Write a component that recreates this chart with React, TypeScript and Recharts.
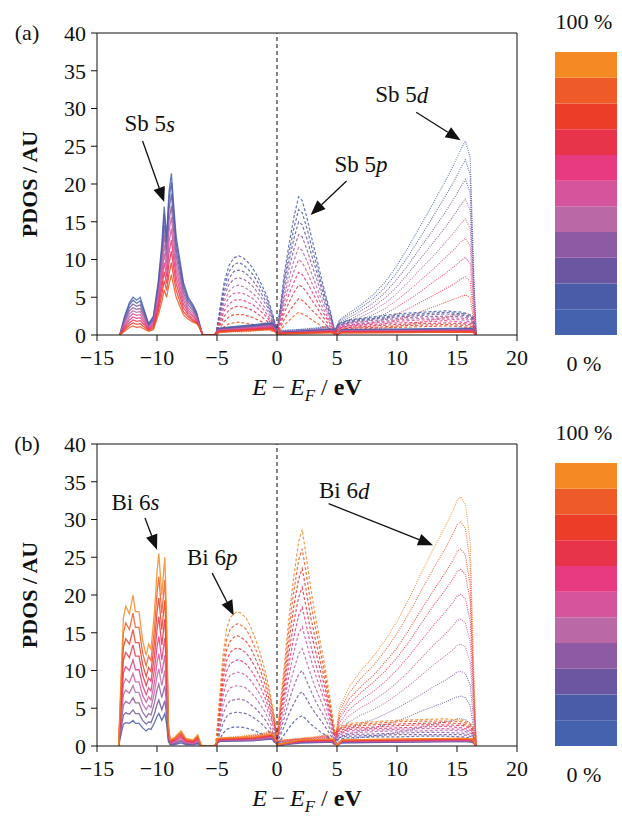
import React from "react";
import {
  LineChart,
  Line,
  XAxis,
  YAxis,
  ReferenceLine,
  ReferenceDot,
  BarChart,
  Bar,
} from "recharts";

const FONT = '"Liberation Serif", "Times New Roman", serif';

// colour scale, 0 % (bottom) -> 100 % (top)
const scaleColors = [
  "#4462ae", "#4a5ba8", "#6b56a2", "#8e5aa3", "#ba68a6", "#d4559c",
  "#e83a80", "#e8344b", "#ec3d29", "#ee5a28", "#f58a24",
];

const xTicks = [-15, -10, -5, 0, 5, 10, 15, 20];
const yTicks = [0, 5, 10, 15, 20, 25, 30, 35, 40];

// ---------- (a) Sb ----------
const sbSX = [-13.1, -12.7, -12.3, -12.0, -11.7, -11.4, -11.1, -10.7, -10.3, -9.9, -9.6, -9.4, -9.2, -9.0, -8.8, -8.6, -8.4, -8.1, -7.8, -7.4, -7.0, -6.7, -6.4, -6.2, -5.2, -4.9, -0.4, 0.1, 4.7, 5.0, 5.4, 16.3, 16.6];
// one row per composition, 0 % ... 90 %
const sb5s = [
  [0, 2.5, 4.3, 5.0, 4.6, 5.0, 3.5, 1.5, 2.5, 7.0, 12.0, 17.0, 13.0, 19.0, 21.4, 17.0, 13.0, 10.0, 7.0, 5.0, 4.0, 3.0, 1.2, 0, 0, 0.9, 1.6, 0.3, 0.8, 0.1, 0.7, 0.9, 0],
  [0, 2.3, 4.0, 4.6, 4.2, 4.5, 3.2, 1.4, 2.3, 6.6, 11.2, 16.0, 12.2, 18.0, 20.2, 16.0, 12.2, 9.4, 6.6, 4.7, 3.8, 2.8, 1.1, 0, 0, 0.8, 1.5, 0.3, 0.7, 0.1, 0.6, 0.8, 0],
  [0, 2.0, 3.6, 4.1, 3.8, 4.0, 2.9, 1.2, 2.1, 6.1, 10.4, 14.6, 11.3, 16.6, 18.7, 14.8, 11.3, 8.7, 6.1, 4.4, 3.5, 2.6, 1.0, 0, 0, 0.7, 1.4, 0.3, 0.7, 0.1, 0.6, 0.7, 0],
  [0, 1.8, 3.2, 3.6, 3.4, 3.5, 2.6, 1.1, 1.9, 5.6, 9.6, 13.3, 10.4, 15.1, 17.1, 13.6, 10.4, 8.0, 5.6, 4.0, 3.2, 2.4, 0.9, 0, 0, 0.7, 1.3, 0.2, 0.6, 0.1, 0.5, 0.7, 0],
  [0, 1.6, 2.8, 3.2, 3.0, 3.1, 2.3, 1.0, 1.7, 5.1, 8.8, 12.0, 9.5, 13.7, 15.6, 12.4, 9.5, 7.3, 5.1, 3.6, 2.9, 2.2, 0.9, 0, 0, 0.6, 1.2, 0.2, 0.6, 0.1, 0.5, 0.6, 0],
  [0, 1.3, 2.4, 2.8, 2.6, 2.7, 2.0, 0.9, 1.5, 4.6, 8.0, 10.8, 8.6, 12.3, 14.1, 11.2, 8.6, 6.6, 4.6, 3.3, 2.6, 2.0, 0.8, 0, 0, 0.6, 1.1, 0.2, 0.5, 0.1, 0.5, 0.6, 0],
  [0, 1.1, 2.0, 2.4, 2.2, 2.3, 1.7, 0.8, 1.3, 4.1, 7.1, 9.6, 7.7, 10.9, 12.6, 10.0, 7.7, 5.9, 4.1, 3.0, 2.4, 1.9, 0.8, 0, 0, 0.5, 1.0, 0.2, 0.5, 0.1, 0.4, 0.5, 0],
  [0, 0.9, 1.6, 2.0, 1.8, 1.9, 1.4, 0.7, 1.1, 3.6, 6.2, 8.4, 6.8, 9.5, 11.1, 8.8, 6.8, 5.2, 3.6, 2.7, 2.1, 1.7, 0.8, 0, 0, 0.5, 0.9, 0.2, 0.4, 0.1, 0.4, 0.5, 0],
  [0, 0.7, 1.3, 1.6, 1.4, 1.5, 1.1, 0.6, 0.9, 3.1, 5.3, 7.2, 5.9, 8.1, 9.6, 7.6, 5.9, 4.5, 3.1, 2.4, 1.9, 1.6, 0.9, 0, 0, 0.4, 0.8, 0.2, 0.4, 0.1, 0.3, 0.4, 0],
  [0, 0.5, 1.0, 1.2, 1.0, 1.1, 0.8, 0.5, 0.7, 2.6, 4.4, 6.0, 5.0, 6.7, 8.0, 6.4, 5.0, 3.8, 2.7, 2.1, 1.7, 1.5, 1.0, 0, 0, 0.4, 0.7, 0.1, 0.3, 0.1, 0.3, 0.4, 0],
];

const sbPX = [-5.1, -4.8, -4.4, -4.0, -3.6, -3.2, -2.8, -2.4, -2.0, -1.6, -1.2, -0.8, -0.4, 0.0, 0.3, 0.6, 1.0, 1.4, 1.8, 2.1, 2.5, 2.9, 3.3, 3.7, 4.1, 4.5, 4.8, 5.1, 6, 8, 10, 12, 14, 15.5, 16.3, 16.6];
const sb5p = [
  [0, 3.0, 7.0, 9.2, 10.2, 10.5, 10.2, 9.6, 8.8, 7.7, 6.4, 5.0, 3.0, 0.6, 4.0, 8.0, 12.0, 15.5, 18.3, 17.8, 15.5, 12.8, 10.2, 7.5, 5.0, 2.8, 0.6, 1.5, 2.0, 2.4, 2.8, 3.0, 3.2, 3.0, 2.5, 0],
  [0, 2.7, 6.4, 8.4, 9.3, 9.6, 9.3, 8.7, 8.0, 7.0, 5.8, 4.6, 2.7, 0.6, 3.6, 7.3, 10.9, 14.1, 16.6, 16.2, 14.1, 11.6, 9.3, 6.8, 4.6, 2.5, 0.6, 1.4, 1.9, 2.2, 2.6, 2.8, 3.0, 2.8, 2.3, 0],
  [0, 2.5, 5.7, 7.5, 8.4, 8.6, 8.4, 7.9, 7.2, 6.3, 5.2, 4.1, 2.5, 0.5, 3.3, 6.6, 9.8, 12.7, 15.0, 14.6, 12.7, 10.5, 8.4, 6.2, 4.1, 2.3, 0.5, 1.3, 1.7, 2.1, 2.4, 2.6, 2.8, 2.6, 2.2, 0],
  [0, 2.2, 5.1, 6.7, 7.4, 7.6, 7.4, 7.0, 6.4, 5.6, 4.7, 3.7, 2.2, 0.5, 2.9, 5.8, 8.8, 11.3, 13.3, 13.0, 11.3, 9.3, 7.4, 5.5, 3.7, 2.0, 0.5, 1.2, 1.6, 1.9, 2.2, 2.4, 2.5, 2.4, 2.0, 0],
  [0, 1.9, 4.4, 5.8, 6.4, 6.6, 6.4, 6.0, 5.5, 4.9, 4.0, 3.2, 1.9, 0.4, 2.5, 5.0, 7.6, 9.8, 11.6, 11.2, 9.8, 8.1, 6.4, 4.7, 3.2, 1.8, 0.4, 1.1, 1.4, 1.7, 2.0, 2.2, 2.3, 2.2, 1.8, 0],
  [0, 1.6, 3.8, 5.0, 5.5, 5.6, 5.5, 5.2, 4.8, 4.2, 3.5, 2.7, 1.6, 0.4, 2.2, 4.3, 6.5, 8.4, 10.0, 9.6, 8.4, 6.9, 5.5, 4.0, 2.7, 1.5, 0.4, 1.0, 1.3, 1.6, 1.8, 2.0, 2.1, 2.0, 1.6, 0],
  [0, 1.4, 3.2, 4.1, 4.6, 4.7, 4.6, 4.3, 4.0, 3.5, 2.9, 2.3, 1.4, 0.3, 1.8, 3.6, 5.4, 7.0, 8.3, 8.0, 7.0, 5.8, 4.6, 3.4, 2.3, 1.3, 0.3, 0.9, 1.2, 1.4, 1.6, 1.7, 1.9, 1.7, 1.5, 0],
  [0, 1.1, 2.5, 3.3, 3.7, 3.8, 3.7, 3.5, 3.2, 2.8, 2.3, 1.8, 1.1, 0.3, 1.4, 2.9, 4.3, 5.6, 6.6, 6.4, 5.6, 4.6, 3.7, 2.7, 1.8, 1.0, 0.3, 0.8, 1.0, 1.2, 1.4, 1.5, 1.6, 1.5, 1.3, 0],
  [0, 0.8, 1.8, 2.4, 2.7, 2.7, 2.7, 2.5, 2.3, 2.0, 1.7, 1.3, 0.8, 0.2, 1.0, 2.1, 3.1, 4.0, 4.8, 4.6, 4.0, 3.3, 2.7, 2.0, 1.3, 0.7, 0.2, 0.6, 0.9, 1.0, 1.2, 1.3, 1.4, 1.3, 1.1, 0],
  [0, 0.5, 1.1, 1.5, 1.6, 1.7, 1.6, 1.5, 1.4, 1.2, 1.0, 0.8, 0.5, 0.2, 0.6, 1.3, 1.9, 2.5, 3.0, 2.8, 2.5, 2.0, 1.6, 1.2, 0.8, 0.5, 0.2, 0.5, 0.7, 0.9, 1.0, 1.1, 1.2, 1.1, 0.9, 0],
];

const sbDX = [-5.1, -4.8, -4.0, -3.0, -2.0, -1.0, -0.4, 0.0, 0.5, 1.5, 3.0, 4.2, 4.8, 5.2, 6, 7, 8, 9, 10, 11, 12, 13, 14, 14.8, 15.3, 15.7, 16.1, 16.4, 16.6];
const sb5d = [
  [0, 0.8, 1.0, 1.1, 1.3, 1.6, 2.0, 0.8, 0.6, 0.7, 0.9, 1.2, 0.2, 2.0, 2.9, 4.0, 5.3, 7.0, 9.2, 11.8, 14.6, 17.4, 20.3, 22.8, 24.5, 25.7, 23.5, 8.0, 0],
  [0, 0.7, 0.9, 1.0, 1.2, 1.5, 1.9, 0.7, 0.6, 0.7, 0.8, 1.1, 0.2, 1.9, 2.6, 3.6, 4.8, 6.3, 8.3, 10.6, 13.1, 15.7, 18.3, 20.5, 22.1, 23.2, 21.2, 7.2, 0],
  [0, 0.7, 0.9, 1.0, 1.1, 1.4, 1.7, 0.7, 0.5, 0.6, 0.8, 1.0, 0.2, 1.7, 2.3, 3.2, 4.2, 5.6, 7.4, 9.4, 11.7, 13.9, 16.2, 18.2, 19.6, 20.6, 18.8, 6.4, 0],
  [0, 0.6, 0.8, 0.9, 1.0, 1.3, 1.6, 0.6, 0.5, 0.6, 0.7, 1.0, 0.2, 1.5, 2.0, 2.8, 3.7, 4.9, 6.4, 8.3, 10.2, 12.2, 14.2, 16.0, 17.2, 18.0, 16.5, 5.6, 0],
  [0, 0.6, 0.7, 0.8, 0.9, 1.2, 1.5, 0.6, 0.4, 0.5, 0.7, 0.9, 0.2, 1.3, 1.7, 2.4, 3.2, 4.2, 5.5, 7.1, 8.8, 10.4, 12.2, 13.7, 14.7, 15.4, 14.1, 4.8, 0],
  [0, 0.5, 0.7, 0.7, 0.9, 1.1, 1.3, 0.5, 0.4, 0.5, 0.6, 0.8, 0.2, 1.1, 1.5, 2.0, 2.7, 3.5, 4.6, 5.9, 7.3, 8.7, 10.2, 11.4, 12.3, 12.8, 11.8, 4.0, 0],
  [0, 0.5, 0.6, 0.7, 0.8, 1.0, 1.2, 0.5, 0.4, 0.4, 0.6, 0.7, 0.1, 0.9, 1.2, 1.6, 2.1, 2.8, 3.7, 4.7, 5.8, 7.0, 8.1, 9.1, 9.8, 10.3, 9.4, 3.2, 0],
  [0, 0.4, 0.5, 0.6, 0.7, 0.9, 1.1, 0.4, 0.3, 0.4, 0.5, 0.7, 0.1, 0.8, 1.0, 1.3, 1.6, 2.1, 2.8, 3.5, 4.4, 5.2, 6.1, 6.8, 7.4, 7.7, 7.1, 2.4, 0],
  [0, 0.4, 0.5, 0.5, 0.6, 0.8, 1.0, 0.4, 0.3, 0.3, 0.4, 0.6, 0.1, 0.7, 0.8, 1.0, 1.2, 1.5, 2.0, 2.5, 3.1, 3.7, 4.3, 4.8, 5.1, 5.3, 4.9, 1.7, 0],
  [0, 0.3, 0.4, 0.4, 0.5, 0.7, 0.8, 0.3, 0.3, 0.3, 0.4, 0.5, 0.1, 0.6, 0.6, 0.7, 0.8, 0.9, 1.1, 1.4, 1.7, 2.0, 2.3, 2.6, 2.8, 2.9, 2.7, 1.0, 0],
];

// ---------- (b) Bi ----------
const biSX = [-13.2, -13.0, -12.8, -12.6, -12.3, -12.0, -11.8, -11.5, -11.2, -10.9, -10.7, -10.5, -10.2, -10.0, -9.85, -9.6, -9.35, -9.2, -9.05, -8.9, -8.5, -8.0, -7.6, -7.0, -6.6, -6.3, -5.2, -4.9, -2, -0.4, 0.1, 2, 4.7, 5.0, 5.4, 10, 15.5, 16.3, 16.6];
// one row per composition, 10 % ... 100 %
const bi6s = [
  [0, 1.5, 2.9, 3.1, 3.0, 3.4, 3.0, 3.0, 2.4, 2.0, 2.3, 2.2, 3.1, 3.9, 4.3, 3.4, 4.3, 2.9, 0.6, 0.2, 0.2, 0.4, 0.2, 0.2, 0.3, 0, 0, 0.6, 0.7, 0.9, 0.1, 0.4, 0.5, 0.1, 0.4, 0.5, 0.6, 0.5, 0],
  [0, 2.2, 4.1, 4.4, 4.2, 4.8, 4.3, 4.3, 3.4, 2.9, 3.2, 3.1, 4.3, 5.5, 6.1, 4.8, 6.0, 4.1, 0.8, 0.2, 0.3, 0.6, 0.3, 0.2, 0.4, 0, 0, 0.6, 0.7, 1.0, 0.1, 0.5, 0.5, 0.1, 0.5, 0.5, 0.6, 0.5, 0],
  [0, 2.9, 5.4, 5.9, 5.6, 6.4, 5.7, 5.7, 4.5, 3.8, 4.3, 4.1, 5.8, 7.4, 8.2, 6.4, 8.0, 5.4, 1.1, 0.3, 0.4, 0.7, 0.4, 0.3, 0.5, 0, 0, 0.7, 0.8, 1.0, 0.1, 0.5, 0.6, 0.1, 0.5, 0.6, 0.7, 0.6, 0],
  [0, 3.6, 6.8, 7.4, 7.0, 8.0, 7.1, 7.1, 5.6, 4.8, 5.4, 5.1, 7.2, 9.2, 10.2, 8.0, 10.0, 6.8, 1.3, 0.3, 0.5, 0.8, 0.4, 0.3, 0.6, 0, 0, 0.7, 0.8, 1.1, 0.1, 0.6, 0.6, 0.1, 0.6, 0.6, 0.7, 0.6, 0],
  [0, 4.3, 8.2, 8.9, 8.4, 9.6, 8.5, 8.5, 6.7, 5.8, 6.5, 6.1, 8.6, 11.0, 12.2, 9.6, 12.0, 8.2, 1.5, 0.4, 0.6, 1.0, 0.5, 0.4, 0.8, 0, 0, 0.8, 0.9, 1.2, 0.2, 0.6, 0.7, 0.1, 0.6, 0.7, 0.8, 0.7, 0],
  [0, 5.1, 9.7, 10.5, 10.0, 11.4, 10.1, 10.1, 8.0, 6.8, 7.7, 7.3, 10.3, 13.1, 14.5, 11.4, 14.3, 9.7, 1.8, 0.5, 0.7, 1.2, 0.6, 0.5, 0.9, 0, 0, 0.8, 1.0, 1.3, 0.2, 0.6, 0.7, 0.1, 0.6, 0.7, 0.8, 0.7, 0],
  [0, 6.0, 11.4, 12.4, 11.7, 13.4, 11.9, 11.9, 9.4, 8.0, 9.0, 8.6, 12.1, 15.4, 17.1, 13.4, 16.8, 11.4, 2.1, 0.6, 0.8, 1.4, 0.7, 0.6, 1.1, 0, 0, 0.9, 1.0, 1.4, 0.2, 0.7, 0.8, 0.1, 0.7, 0.8, 0.9, 0.8, 0],
  [0, 6.9, 13.1, 14.2, 13.5, 15.4, 13.7, 13.7, 10.8, 9.2, 10.4, 9.9, 13.9, 17.7, 19.6, 15.4, 19.3, 13.1, 2.4, 0.6, 1.0, 1.6, 0.8, 0.6, 1.2, 0, 0, 0.9, 1.1, 1.4, 0.2, 0.7, 0.8, 0.1, 0.7, 0.8, 0.9, 0.8, 0],
  [0, 7.9, 15.0, 16.3, 15.4, 17.6, 15.7, 15.7, 12.3, 10.6, 11.9, 11.3, 15.8, 20.2, 22.4, 17.6, 22.0, 15.0, 2.6, 0.7, 1.1, 1.8, 0.9, 0.7, 1.3, 0, 0, 1.0, 1.1, 1.5, 0.2, 0.8, 0.9, 0.1, 0.8, 0.9, 1.0, 0.9, 0],
  [0, 9.0, 17.0, 18.5, 17.5, 20.0, 17.8, 17.8, 14.0, 12.0, 13.5, 12.8, 18.0, 23.0, 25.5, 20.0, 25.0, 17.0, 3.0, 0.8, 1.2, 2.0, 1.0, 0.8, 1.5, 0, 0, 1.0, 1.2, 1.6, 0.2, 0.8, 0.9, 0.1, 0.8, 0.9, 1.0, 0.9, 0],
];

const biPX = [-5.1, -4.8, -4.5, -4.2, -3.9, -3.6, -3.3, -3.0, -2.6, -2.2, -1.8, -1.4, -1.0, -0.6, -0.2, 0.0, 0.3, 0.6, 1.0, 1.4, 1.8, 2.1, 2.4, 2.8, 3.2, 3.6, 4.0, 4.4, 4.8, 5.1, 6, 8, 10, 12, 14, 15.5, 16.3, 16.6];
const bi6p = [
  [0, 0.8, 1.7, 2.2, 2.4, 2.5, 2.5, 2.5, 2.4, 2.2, 2.0, 1.7, 1.4, 1.0, 0.5, 0.3, 0.8, 1.5, 2.4, 3.2, 3.8, 4.0, 3.6, 2.9, 2.4, 1.9, 1.5, 0.9, 0.3, 0.9, 1.1, 1.2, 1.2, 1.3, 1.3, 1.2, 1.0, 0],
  [0, 1.5, 3.0, 3.9, 4.3, 4.4, 4.5, 4.4, 4.3, 4.0, 3.6, 3.1, 2.5, 1.8, 1.0, 0.4, 1.5, 2.6, 4.3, 5.6, 6.8, 7.2, 6.4, 5.3, 4.3, 3.5, 2.6, 1.6, 0.5, 1.1, 1.3, 1.4, 1.5, 1.5, 1.5, 1.5, 1.2, 0],
  [0, 2.1, 4.2, 5.4, 6.0, 6.1, 6.2, 6.2, 6.0, 5.5, 5.0, 4.3, 3.5, 2.5, 1.3, 0.5, 2.1, 3.7, 6.0, 7.9, 9.5, 10.0, 8.9, 7.4, 6.0, 4.8, 3.7, 2.3, 0.7, 1.3, 1.5, 1.6, 1.7, 1.8, 1.8, 1.7, 1.4, 0],
  [0, 2.7, 5.4, 7.0, 7.7, 7.9, 8.0, 7.9, 7.7, 7.1, 6.4, 5.5, 4.5, 3.2, 1.7, 0.6, 2.7, 4.7, 7.7, 10.1, 12.2, 12.9, 11.5, 9.5, 7.7, 6.2, 4.7, 2.9, 0.9, 1.5, 1.7, 1.9, 2.0, 2.0, 2.1, 2.0, 1.6, 0],
  [0, 3.3, 6.6, 8.5, 9.4, 9.6, 9.8, 9.7, 9.4, 8.7, 7.8, 6.8, 5.5, 4.0, 2.1, 0.7, 3.3, 5.8, 9.4, 12.4, 14.9, 15.8, 14.0, 11.6, 9.5, 7.6, 5.8, 3.6, 1.1, 1.6, 2.0, 2.1, 2.2, 2.3, 2.3, 2.2, 1.8, 0],
  [0, 3.8, 7.7, 9.9, 10.9, 11.2, 11.4, 11.3, 10.9, 10.1, 9.1, 7.9, 6.4, 4.6, 2.4, 0.8, 3.8, 6.7, 10.9, 14.4, 17.3, 18.4, 16.3, 13.4, 11.0, 8.8, 6.7, 4.2, 1.3, 1.8, 2.2, 2.3, 2.4, 2.5, 2.6, 2.4, 2.0, 0],
  [0, 4.4, 8.8, 11.3, 12.4, 12.8, 13.0, 12.8, 12.4, 11.5, 10.4, 9.0, 7.3, 5.3, 2.8, 0.9, 4.4, 7.7, 12.4, 16.4, 19.7, 21.0, 18.6, 15.3, 12.6, 10.1, 7.7, 4.7, 1.5, 2.0, 2.4, 2.5, 2.7, 2.8, 2.8, 2.7, 2.2, 0],
  [0, 4.9, 9.8, 12.7, 13.9, 14.4, 14.6, 14.4, 13.9, 13.0, 11.6, 10.1, 8.2, 5.9, 3.1, 1.0, 4.9, 8.6, 13.9, 18.5, 22.1, 23.5, 20.9, 17.2, 14.1, 11.3, 8.6, 5.3, 1.6, 2.2, 2.6, 2.8, 2.9, 3.0, 3.1, 2.9, 2.4, 0],
  [0, 5.5, 10.9, 14.1, 15.5, 15.9, 16.2, 16.0, 15.5, 14.4, 12.9, 11.2, 9.1, 6.6, 3.5, 1.1, 5.5, 9.6, 15.5, 20.5, 24.6, 26.1, 23.2, 19.1, 15.7, 12.6, 9.6, 5.9, 1.8, 2.3, 2.8, 3.0, 3.2, 3.3, 3.3, 3.2, 2.6, 0],
  [0, 6.0, 12.0, 15.5, 17.0, 17.5, 17.8, 17.6, 17.0, 15.8, 14.2, 12.3, 10.0, 7.2, 3.8, 1.2, 6.0, 10.5, 17.0, 22.5, 27.0, 28.7, 25.5, 21.0, 17.2, 13.8, 10.5, 6.5, 2.0, 2.5, 3.0, 3.2, 3.4, 3.5, 3.6, 3.4, 2.8, 0],
];

const biDX = [-5.1, -4.8, -4.0, -3.0, -2.0, -1.0, -0.4, 0.0, 0.5, 1.5, 3.0, 4.2, 4.8, 5.2, 6, 7, 8, 9, 10, 11, 12, 13, 14, 14.7, 15.0, 15.3, 15.7, 16.1, 16.4, 16.6];
const bi6d = [
  [0, 0.6, 0.7, 0.7, 0.8, 1.0, 1.1, 0.4, 0.4, 0.6, 0.7, 0.8, 0.2, 0.7, 0.9, 1.1, 1.3, 1.5, 1.8, 2.1, 2.5, 2.9, 3.2, 3.4, 3.6, 3.6, 3.5, 3.0, 1.1, 0],
  [0, 0.6, 0.7, 0.8, 0.9, 1.1, 1.2, 0.5, 0.5, 0.6, 0.7, 0.9, 0.2, 1.1, 1.6, 2.0, 2.4, 2.8, 3.3, 3.9, 4.6, 5.2, 5.8, 6.3, 6.5, 6.6, 6.4, 5.4, 2.0, 0],
  [0, 0.7, 0.8, 0.8, 1.0, 1.2, 1.3, 0.5, 0.5, 0.7, 0.8, 1.0, 0.2, 1.6, 2.3, 3.0, 3.5, 4.2, 5.0, 5.9, 6.8, 7.8, 8.7, 9.4, 9.8, 9.9, 9.6, 8.1, 3.0, 0],
  [0, 0.7, 0.8, 0.9, 1.1, 1.3, 1.4, 0.6, 0.6, 0.7, 0.8, 1.1, 0.2, 2.1, 3.2, 4.1, 4.8, 5.7, 6.8, 8.0, 9.3, 10.7, 11.9, 12.8, 13.3, 13.5, 13.1, 11.1, 4.1, 0],
  [0, 0.8, 0.9, 1.0, 1.1, 1.4, 1.5, 0.6, 0.6, 0.8, 0.9, 1.1, 0.2, 2.6, 4.0, 5.1, 6.0, 7.1, 8.4, 9.9, 11.6, 13.3, 14.8, 16.0, 16.6, 16.8, 16.3, 13.8, 5.1, 0],
  [0, 0.8, 1.0, 1.0, 1.2, 1.4, 1.6, 0.6, 0.6, 0.8, 1.0, 1.2, 0.2, 3.1, 4.8, 6.1, 7.2, 8.5, 10.1, 11.9, 13.9, 15.9, 17.7, 19.1, 19.8, 20.1, 19.5, 16.5, 6.1, 0],
  [0, 0.9, 1.0, 1.1, 1.3, 1.5, 1.7, 0.7, 0.7, 0.9, 1.0, 1.3, 0.3, 3.6, 5.5, 7.1, 8.4, 9.9, 11.7, 13.8, 16.2, 18.5, 20.6, 22.2, 23.1, 23.4, 22.7, 19.2, 7.1, 0],
  [0, 0.9, 1.1, 1.2, 1.4, 1.6, 1.8, 0.7, 0.7, 0.9, 1.1, 1.4, 0.3, 4.0, 6.2, 7.9, 9.3, 11.1, 13.0, 15.4, 18.0, 20.5, 22.9, 24.7, 25.7, 26.1, 25.3, 21.3, 7.9, 0],
  [0, 1.0, 1.1, 1.2, 1.4, 1.7, 1.9, 0.8, 0.8, 0.9, 1.1, 1.4, 0.3, 4.5, 7.0, 9.0, 10.6, 12.6, 14.9, 17.6, 20.5, 23.4, 26.1, 28.2, 29.3, 29.7, 28.8, 24.3, 9.0, 0],
  [0, 1.0, 1.2, 1.3, 1.5, 1.8, 2.0, 0.8, 0.8, 1.0, 1.2, 1.5, 0.3, 5.0, 7.8, 10.0, 11.8, 14.0, 16.5, 19.5, 22.8, 26.0, 29.0, 31.3, 32.5, 33.0, 32.0, 27.0, 10.0, 0],
];

// annotation text centre (tx, ty) and arrow tail -> head, in data units
const sbNotes = [
  { label: "Sb 5", orb: "s", tx: -10.6, ty: 28.0, x1: -11.2, y1: 25.7, x2: -9.4, y2: 17.6 },
  { label: "Sb 5", orb: "p", tx: 7.0, ty: 22.6, x1: 5.8, y1: 20.4, x2: 2.8, y2: 15.9 },
  { label: "Sb 5", orb: "d", tx: 10.4, ty: 31.8, x1: 11.6, y1: 29.5, x2: 15.3, y2: 25.8 },
];
const biNotes = [
  { label: "Bi 6", orb: "s", tx: -11.8, ty: 32.3, x1: -11.0, y1: 30.2, x2: -10.0, y2: 26.0 },
  { label: "Bi 6", orb: "p", tx: -5.4, ty: 25.0, x1: -5.4, y1: 22.9, x2: -3.6, y2: 17.3 },
  { label: "Bi 6", orb: "d", tx: 5.6, ty: 33.8, x1: 4.3, y1: 32.1, x2: 13.0, y2: 26.6 },
];

type Note = (typeof sbNotes)[number];

const toPoints = (xs: number[], ys: number[]) => xs.map((x, i) => ({ x, y: ys[i] }));
const fmtTick = (v: number) => (v < 0 ? `\u2212${-v}` : `${v}`);

const tickStyle = { fontFamily: FONT, fontSize: 22, fill: "#111" };

const Arrow = (p: any) => {
  const { x1, y1, x2, y2 } = p;
  const a = Math.atan2(y2 - y1, x2 - x1);
  const len = 15;
  const half = 6;
  const bx = x2 - len * Math.cos(a);
  const by = y2 - len * Math.sin(a);
  const nx = -Math.sin(a) * half;
  const ny = Math.cos(a) * half;
  return (
    <g>
      <line x1={x1} y1={y1} x2={bx} y2={by} stroke="#111" strokeWidth={1.3} />
      <polygon points={`${x2},${y2} ${bx + nx},${by + ny} ${bx - nx},${by - ny}`} fill="#111" />
    </g>
  );
};

const noteText = (n: Note) => (p: any) => (
  <text
    x={p.cx}
    y={p.cy}
    textAnchor="middle"
    dominantBaseline="central"
    fontFamily={FONT}
    fontSize={23}
    fill="#111"
  >
    {n.label}
    <tspan fontStyle="italic">{n.orb}</tspan>
  </text>
);

const Txt = ({ x, y, size = 22, weight = 400, rotate = 0, children }: any) => (
  <div
    style={{
      position: "absolute",
      left: x,
      top: y,
      transform: `translate(-50%, -50%) rotate(${rotate}deg)`,
      fontFamily: FONT,
      fontSize: size,
      fontWeight: weight,
      lineHeight: 1,
      whiteSpace: "nowrap",
      color: "#111",
    }}
  >
    {children}
  </div>
);

const BAR_W = 62;

const ColorBar = () => {
  const row: Record<string, number | string> = { k: "bar" };
  scaleColors.forEach((_, i) => (row[`c${i}`] = 1));
  return (
    <BarChart width={BAR_W} height={283} data={[row]} margin={{ top: 0, right: 0, bottom: 0, left: 0 }} barCategoryGap={0}>
      <XAxis dataKey="k" hide />
      <YAxis type="number" domain={[0, scaleColors.length]} hide />
      {scaleColors.map((c, i) => (
        <Bar key={c} dataKey={`c${i}`} stackId="cb" fill={c} isAnimationActive={false} />
      ))}
    </BarChart>
  );
};

type PanelProps = {
  top: number;
  tag: string;
  first: number;
  sX: number[];
  s: number[][];
  pX: number[];
  p: number[][];
  dX: number[];
  d: number[][];
  notes: Note[];
};

const PdosPanel = ({ top, tag, first, sX, s, pX, p, dX, d, notes }: PanelProps) => (
  <div style={{ position: "absolute", left: 0, top, width: 622, height: 412 }}>
    <LineChart width={622} height={412} margin={{ top: 33, right: 105, bottom: 0, left: 0 }}>
      <XAxis
        type="number"
        dataKey="x"
        domain={[-15, 20]}
        ticks={xTicks}
        interval={0}
        allowDataOverflow
        height={77}
        tickSize={6}
        tickMargin={8}
        tick={tickStyle}
        tickFormatter={fmtTick}
        axisLine={{ stroke: "#111" }}
        tickLine={{ stroke: "#111" }}
      />
      <YAxis
        type="number"
        domain={[0, 40]}
        ticks={yTicks}
        interval={0}
        allowDataOverflow
        width={97}
        tickSize={6}
        tickMargin={5}
        tick={tickStyle}
        axisLine={{ stroke: "#111" }}
        tickLine={{ stroke: "#111" }}
      />
      <ReferenceLine y={40} stroke="#111" />
      <ReferenceLine x={20} stroke="#111" />
      {d.map((ys, i) => (
        <Line
          key={`d${i}`}
          data={toPoints(dX, ys)}
          dataKey="y"
          type="linear"
          stroke={scaleColors[first + i]}
          strokeOpacity={0.85}
          strokeWidth={1.1}
          strokeDasharray="1 1.2"
          dot={false}
          activeDot={false}
          isAnimationActive={false}
        />
      ))}
      {p.map((ys, i) => (
        <Line
          key={`p${i}`}
          data={toPoints(pX, ys)}
          dataKey="y"
          type="linear"
          stroke={scaleColors[first + i]}
          strokeOpacity={0.85}
          strokeWidth={1.2}
          strokeDasharray="3 2"
          dot={false}
          activeDot={false}
          isAnimationActive={false}
        />
      ))}
      {s.map((ys, i) => (
        <Line
          key={`s${i}`}
          data={toPoints(sX, ys)}
          dataKey="y"
          type="linear"
          stroke={scaleColors[first + i]}
          strokeOpacity={0.85}
          strokeWidth={1.3}
          dot={false}
          activeDot={false}
          isAnimationActive={false}
        />
      ))}
      <ReferenceLine x={0} stroke="#333" strokeDasharray="4 3" strokeWidth={1.2} />
      {notes.map((n) => (
        <ReferenceLine
          key={`a${n.orb}`}
          segment={[{ x: n.x1, y: n.y1 }, { x: n.x2, y: n.y2 }]}
          ifOverflow="visible"
          shape={Arrow}
        />
      ))}
      {notes.map((n) => (
        <ReferenceDot key={`t${n.orb}`} x={n.tx} y={n.ty} r={1} ifOverflow="visible" shape={noteText(n)} />
      ))}
    </LineChart>

    <Txt x={27} y={33}>{tag}</Txt>
    <Txt x={30} y={184} weight={700} rotate={-90}>PDOS / AU</Txt>
    <Txt x={307} y={387} size={24}>
      <i>E</i>
      {"\u2009\u2212\u2009"}
      <i>E</i>
      <span style={{ fontSize: "70%", position: "relative", top: "0.35em" }}>
        <i>F</i>
      </span>
      {" / "}
      <b>eV</b>
    </Txt>

    <div style={{ position: "absolute", left: 555, top: 52, width: BAR_W, height: 283 }}>
      <ColorBar />
    </div>
    <Txt x={584} y={22}>100 %</Txt>
    <Txt x={584} y={364}>0 %</Txt>
  </div>
);

export default function App() {
  return (
    <div
      style={{
        position: "absolute",
        left: 0,
        top: 0,
        width: 622,
        height: 825,
        background: "#fff",
        overflow: "hidden",
      }}
    >
      <PdosPanel top={0} tag="(a)" first={0} sX={sbSX} s={sb5s} pX={sbPX} p={sb5p} dX={sbDX} d={sb5d} notes={sbNotes} />
      <PdosPanel top={411} tag="(b)" first={1} sX={biSX} s={bi6s} pX={biPX} p={bi6p} dX={biDX} d={bi6d} notes={biNotes} />
    </div>
  );
}
